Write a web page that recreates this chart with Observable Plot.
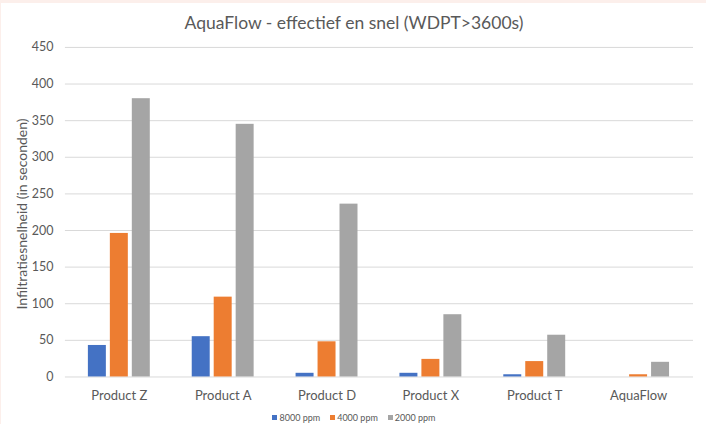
<!DOCTYPE html>
<html>
<head>
<meta charset="utf-8">
<script src="https://cdn.jsdelivr.net/npm/d3@7"></script>
<script src="https://cdn.jsdelivr.net/npm/@observablehq/plot@0.6"></script>
<style>
  html, body { margin: 0; padding: 0; background: #fff; }
  #wrap { position: relative; width: 706px; height: 424px; overflow: hidden; font-family: Lato, "Open Sans", sans-serif; color: #595959; border-top: 3px solid #fcefeb; border-left: 1px solid #fcefeb; box-sizing: border-box; }
  #wrap svg { position: absolute; left: -1px; top: -3px; }
  #title { position: absolute; left: 0; width: 706px; top: 9px; text-align: center; font-size: 17.5px; z-index: 3; }
  #ylabel { position: absolute; left: 20px; top: 211px; transform: translate(-50%, -50%) rotate(-90deg); white-space: nowrap; font-size: 14px; z-index: 3; }
  #legend { position: absolute; left: 0; width: 706px; top: 409px; display: flex; justify-content: center; gap: 10px; font-size: 9px; z-index: 3; }
  #legend span.item { display: flex; align-items: center; gap: 2px; }
  #legend span.sw { display: inline-block; width: 5px; height: 5px; }
</style>
</head>
<body>
<div id="wrap">
  <div id="title">AquaFlow - effectief en snel (WDPT&gt;3600s)</div>
  <div id="ylabel">Infiltratiesnelheid (in seconden)</div>
  <div id="legend"></div>
</div>
<script>
const products = ["Product Z", "Product A", "Product D", "Product X", "Product T", "AquaFlow"];
const seriesNames = ["8000 ppm", "4000 ppm", "2000 ppm"];
const colors = ["#4472C4", "#ED7D31", "#A5A5A5"];
const v8000 = [43, 55, 5, 5, 3, 0];
const v4000 = [196, 109, 48, 24, 21, 3];
const v2000 = [380, 345, 236, 85, 57, 20];
const yTicks = [0, 50, 100, 150, 200, 250, 300, 350, 400, 450];

const seriesValues = [v8000, v4000, v2000];
const data = [];
products.forEach((p, i) => {
  seriesNames.forEach((s, j) => {
    data.push({product: p, series: s, value: seriesValues[j][i]});
  });
});

const W = 706, H = 424;
const common = {
  width: W, height: H,
  marginLeft: 65, marginRight: 12, marginTop: 47, marginBottom: 47
};

const basePlot = Plot.plot({
  ...common,
  style: {fontFamily: "Lato, 'Open Sans', sans-serif", fontSize: "12.5px", color: "#595959", background: "white"},
  y: {domain: [0, 450], ticks: yTicks, tickSize: 0, tickPadding: 12, label: null},
  marks: [
    Plot.ruleY(yTicks, {stroke: "#d9d9d9", strokeWidth: 1})
  ]
});

const barPlot = Plot.plot({
  ...common,
  style: {fontFamily: "Lato, 'Open Sans', sans-serif", fontSize: "13px", color: "#595959", background: "none"},
  fx: {domain: products, paddingInner: 0.38, paddingOuter: 0.19, axis: "bottom", tickSize: 0, tickPadding: 14, label: null},
  x: {domain: seriesNames, paddingInner: 0.17, paddingOuter: 0, axis: null},
  y: {domain: [0, 450], axis: null},
  color: {domain: seriesNames, range: colors},
  marks: [
    Plot.barY(data, {fx: "product", x: "series", y: "value", fill: "series"})
  ]
});

const wrap = document.getElementById("wrap");
wrap.insertBefore(basePlot, wrap.firstChild);
basePlot.style.zIndex = 1;
barPlot.style.zIndex = 2;
wrap.appendChild(barPlot);

const legend = document.getElementById("legend");
seriesNames.forEach((s, j) => {
  const item = document.createElement("span");
  item.className = "item";
  const sw = document.createElement("span");
  sw.className = "sw";
  sw.style.background = colors[j];
  item.appendChild(sw);
  item.appendChild(document.createTextNode(s));
  legend.appendChild(item);
});
</script>
</body>
</html>
